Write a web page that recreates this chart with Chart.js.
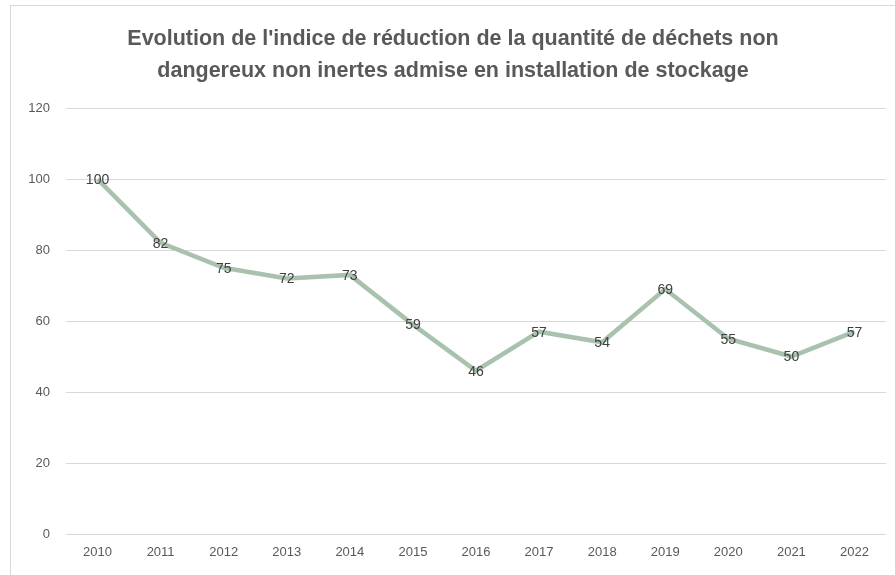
<!DOCTYPE html>
<html>
<head>
<meta charset="utf-8">
<script src="https://cdn.jsdelivr.net/npm/chart.js@4/dist/chart.umd.min.js"></script>
<style>
  html, body { margin: 0; padding: 0; background: #fff; }
  #wrap { width: 895px; height: 575px; }
</style>
</head>
<body>
<div id="wrap"><canvas id="chart" width="895" height="575"></canvas></div>
<script>
// données
const years = ['2010', '2011', '2012', '2013', '2014', '2015', '2016', '2017', '2018', '2019', '2020', '2021', '2022'];
const indice = [100, 82, 75, 72, 73, 59, 46, 57, 54, 69, 55, 50, 57];
const titleLines = [
  "Evolution de l'indice de réduction de la quantité de déchets non",
  'dangereux non inertes admise en installation de stockage'
];

const FONT = "'Liberation Sans', Arial, sans-serif";

// cadre gris autour du graphique
const framePlugin = {
  id: 'frame',
  beforeDraw(chart) {
    const ctx = chart.ctx;
    ctx.save();
    ctx.fillStyle = '#fff';
    ctx.fillRect(0, 0, chart.width, chart.height);
    ctx.strokeStyle = '#d9d9d9';
    ctx.lineWidth = 1;
    ctx.strokeRect(10.5, 5.5, chart.width, chart.height);
    ctx.restore();
  }
};

// étiquettes de valeur centrées sur les points
const valueLabels = {
  id: 'valueLabels',
  afterDatasetsDraw(chart) {
    const ctx = chart.ctx;
    const meta = chart.getDatasetMeta(0);
    ctx.save();
    ctx.font = '14px ' + FONT;
    ctx.fillStyle = '#404040';
    ctx.textAlign = 'center';
    ctx.textBaseline = 'middle';
    meta.data.forEach((pt, i) => {
      ctx.fillText(String(indice[i]), pt.x, pt.y + 1);
    });
    ctx.restore();
  }
};

const ctx = document.getElementById('chart').getContext('2d');

new Chart(ctx, {
  type: 'line',
  data: {
    labels: years,
    datasets: [{
      label: 'Indice',
      data: indice,
      borderColor: '#a8c2ad',
      borderWidth: 4.5,
      pointRadius: 0,
      tension: 0,
      fill: false
    }]
  },
  plugins: [framePlugin, valueLabels],
  options: {
    responsive: false,
    animation: false,
    layout: { padding: { left: 20, right: 9, top: 0, bottom: 0 } },
    plugins: {
      legend: { display: false },
      tooltip: { enabled: false },
      title: {
        display: true,
        text: titleLines,
        color: '#595959',
        font: { family: FONT, size: 21.5, weight: 'bold', lineHeight: 1.49 },
        padding: { top: 23, bottom: 21 }
      }
    },
    scales: {
      x: {
        offset: true,
        grid: { display: false, drawTicks: false },
        border: { display: false },
        ticks: { color: '#595959', font: { family: FONT, size: 13 }, padding: 11, maxRotation: 0 },
        afterFit(scale) { scale.height = 41; }
      },
      y: {
        min: 0,
        max: 120,
        ticks: { stepSize: 20, color: '#595959', font: { family: FONT, size: 13 }, padding: 16 },
        grid: { color: '#d9d9d9', drawTicks: false },
        border: { display: false },
        afterFit(scale) { scale.width = 46; }
      }
    }
  }
});
</script>
</body>
</html>
